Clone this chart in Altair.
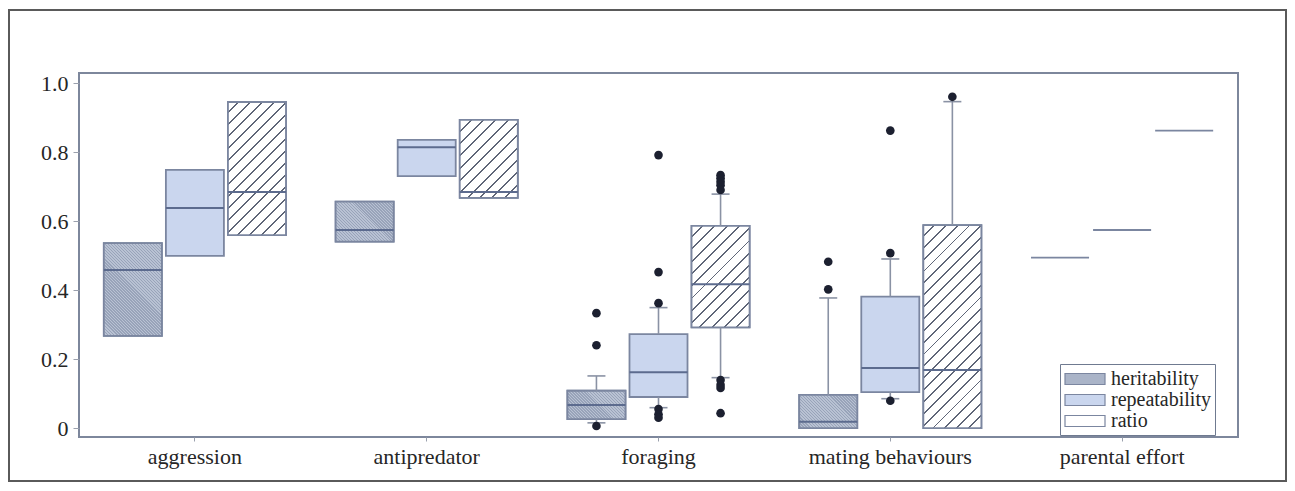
import altair as alt
import pandas as pd

# ---------------- data ----------------
categories = ["aggression", "antipredator", "foraging", "mating behaviours", "parental effort"]
measures = ["heritability", "repeatability", "ratio"]

box_cat = ["aggression"] * 3 + ["antipredator"] * 3 + ["foraging"] * 3 + ["mating behaviours"] * 3 + ["parental effort"] * 3
box_measure = measures * 5
box_q1 = [0.267, 0.499, 0.559, 0.540, 0.730, 0.667, 0.026, 0.090, 0.292, 0.000, 0.104, 0.000, 0.494, 0.574, 0.862]
box_median = [0.458, 0.638, 0.684, 0.574, 0.814, 0.684, 0.067, 0.162, 0.417, 0.018, 0.174, 0.168, 0.494, 0.574, 0.862]
box_q3 = [0.536, 0.748, 0.945, 0.656, 0.835, 0.893, 0.108, 0.272, 0.586, 0.096, 0.381, 0.588, 0.494, 0.574, 0.862]

whisker_cat = ["foraging"] * 3 + ["mating behaviours"] * 3
whisker_measure = measures * 2
whisker_low = [0.015, 0.059, 0.146, None, 0.085, None]
whisker_high = [0.151, 0.349, 0.678, 0.377, 0.490, 0.946]

outlier_cat = ["foraging"] * 18 + ["mating behaviours"] * 6
outlier_measure = (["heritability"] * 3 + ["repeatability"] * 6 + ["ratio"] * 9
                   + ["heritability"] * 2 + ["repeatability"] * 3 + ["ratio"] * 1)
outlier_value = [0.333, 0.240, 0.006,
                 0.791, 0.452, 0.362, 0.055, 0.040, 0.030,
                 0.733, 0.724, 0.714, 0.704, 0.690, 0.139, 0.125, 0.116, 0.043,
                 0.482, 0.402,
                 0.862, 0.507, 0.079,
                 0.960]

y_ticks = [0.0, 0.2, 0.4, 0.6, 0.8, 1.0]
y_domain = [-0.026, 1.029]

# ---------------- styling ----------------
W, H = 1159, 364
FONT = "Liberation Serif"
C_HER = "#aab4c8"
C_REP = "#cad6ee"
C_RATIO = "#ffffff"
C_EDGE = "#7b86a0"
C_MED = "#5c6b8e"
C_WHISK = "#8a92a4"
C_DOT = "#1c2030"
C_TEXT = "#262626"
SUB_PI, SUB_PO = 0.065, 0.4

boxes = pd.DataFrame({"cat": box_cat, "measure": box_measure,
                      "q1": box_q1, "median": box_median, "q3": box_q3})
wh = pd.DataFrame({"cat": whisker_cat, "measure": whisker_measure,
                   "low": whisker_low, "high": whisker_high}).merge(boxes, on=["cat", "measure"])
seg_rows, cap_rows = [], []
for _, r in wh.iterrows():
    seg_rows.append({"cat": r["cat"], "measure": r["measure"], "a": r["q3"], "b": r["high"]})
    cap_rows.append({"cat": r["cat"], "measure": r["measure"], "v": r["high"]})
    if pd.notna(r["low"]):
        seg_rows.append({"cat": r["cat"], "measure": r["measure"], "a": r["low"], "b": r["q1"]})
        cap_rows.append({"cat": r["cat"], "measure": r["measure"], "v": r["low"]})
segs = pd.DataFrame(seg_rows)
caps = pd.DataFrame(cap_rows)
outs = pd.DataFrame({"cat": outlier_cat, "measure": outlier_measure, "v": outlier_value})

x_enc = alt.X("cat:N", sort=categories,
              scale=alt.Scale(domain=categories, paddingInner=0, paddingOuter=0),
              axis=alt.Axis(title=None, labelAngle=0, domain=False, ticks=True, tickSize=4,
                            tickColor="#9aa0ad", labelPadding=5))
xo_enc = alt.XOffset("measure:N", sort=measures,
                     scale=alt.Scale(domain=measures, paddingInner=SUB_PI, paddingOuter=SUB_PO))
y_scale = alt.Scale(domain=y_domain, zero=False, nice=False)
y_enc = alt.Y("q1:Q", scale=y_scale,
              axis=alt.Axis(title=None, values=y_ticks, grid=False, domain=False, tickSize=6,
                            tickColor="#9aa0ad", labelPadding=5,
                            labelExpr="datum.value == 0 ? '0' : format(datum.value, '.1f')"))

# pixel geometry used only to size texture stripes
step = (W / len(categories)) / (len(measures) - SUB_PI + 2 * SUB_PO)
BW = step * (1 - SUB_PI)
PX_PER_UNIT = H / (y_domain[1] - y_domain[0])


def stripes(w, h, period, frac, c_bg, c_fg, forward=True):
    k = (w + h) / (w * w + h * h)
    n = max(1, round((w + h) / period))
    stops = []
    for i in range(n):
        a, b, c = i / n, (i + 1 - frac) / n, (i + 1) / n
        stops += [{"offset": a, "color": c_bg}, {"offset": b, "color": c_bg},
                  {"offset": b, "color": c_fg}, {"offset": c, "color": c_fg}]
    if forward:
        x1, y1, x2, y2 = 0, 0, k * w, k * h
    else:
        x1, y1, x2, y2 = 0, 1, k * w, 1 - k * h
    return {"gradient": "linear", "x1": x1, "y1": y1, "x2": x2, "y2": y2, "stops": stops}


base = alt.Chart(boxes)

box_layer = base.mark_bar(stroke=C_EDGE, strokeWidth=1.8, opacity=1).encode(
    x=x_enc, xOffset=xo_enc, y=y_enc, y2="q3:Q",
    fill=alt.Fill("measure:N", sort=measures,
                  scale=alt.Scale(domain=measures, range=[C_HER, C_REP, C_RATIO]),
                  legend=alt.Legend(title=None, orient="none", legendX=981, legendY=291,
                                    symbolType="M-1,-0.55H3V0.55H-1Z", symbolSize=400,
                                    symbolStrokeColor=C_EDGE, symbolStrokeWidth=1.2,
                                    symbolOpacity=1,
                                    labelFont=FONT, labelFontSize=20, labelColor=C_TEXT,
                                    labelOffset=25, rowPadding=0, padding=4,
                                    strokeColor="#6f7a90", fillColor="#ffffff")),
)

texture_layers = []
for i in range(len(box_cat)):
    h_px = (box_q3[i] - box_q1[i]) * PX_PER_UNIT
    if h_px < 2:
        continue
    if box_measure[i] == "ratio":
        grad = stripes(BW, h_px, 12.0, 0.16, "#ffffff", "#5f6678", forward=True)
    elif box_measure[i] == "heritability":
        grad = stripes(BW, h_px, 3.0, 0.45, "#b9c2d3", "#98a3b9", forward=False)
    else:
        continue
    lyr = base.transform_filter(
        (alt.datum.cat == box_cat[i]) & (alt.datum.measure == box_measure[i])
    ).mark_bar(fill=grad, stroke=C_EDGE, strokeWidth=1.8).encode(
        x=x_enc, xOffset=xo_enc, y=y_enc, y2="q3:Q")
    texture_layers.append(lyr)

median_layer = base.transform_filter(alt.datum.cat != "parental effort").mark_tick(
    color=C_MED, thickness=2, size=BW, opacity=1).encode(
    x=x_enc, xOffset=xo_enc, y=alt.Y("median:Q", scale=y_scale))

whisk_layer = alt.Chart(segs).mark_rule(color=C_WHISK, strokeWidth=1.6).encode(
    x=x_enc, xOffset=xo_enc, y=alt.Y("a:Q", scale=y_scale), y2="b:Q")

cap_layer = alt.Chart(caps).mark_tick(color=C_WHISK, thickness=1.6, size=18, opacity=1).encode(
    x=x_enc, xOffset=xo_enc, y=alt.Y("v:Q", scale=y_scale))

out_layer = alt.Chart(outs).mark_circle(color=C_DOT, size=75, opacity=1).encode(
    x=x_enc, xOffset=xo_enc, y=alt.Y("v:Q", scale=y_scale))

frame = alt.Chart(pd.DataFrame({"k": [0]})).mark_rect(
    fill="#ffffff", fillOpacity=0, stroke="#5a5a5a", strokeWidth=2).encode(
    x=alt.value(-70), x2=alt.value(1207), y=alt.value(-63), y2=alt.value(408))

chart = alt.layer(box_layer, *texture_layers, median_layer, whisk_layer, cap_layer,
                  out_layer, frame).properties(
    width=W, height=H,
    autosize=alt.AutoSizeParams(type="none"),
    padding={"left": 71, "top": 65, "right": 49, "bottom": 45},
    background="#ffffff",
).configure_view(
    stroke="#7d879c", strokeWidth=2
).configure_axis(
    labelFont=FONT, labelFontSize=22, labelColor=C_TEXT
)

chart.save("out.html", embed_options={"renderer": "svg", "actions": False})
